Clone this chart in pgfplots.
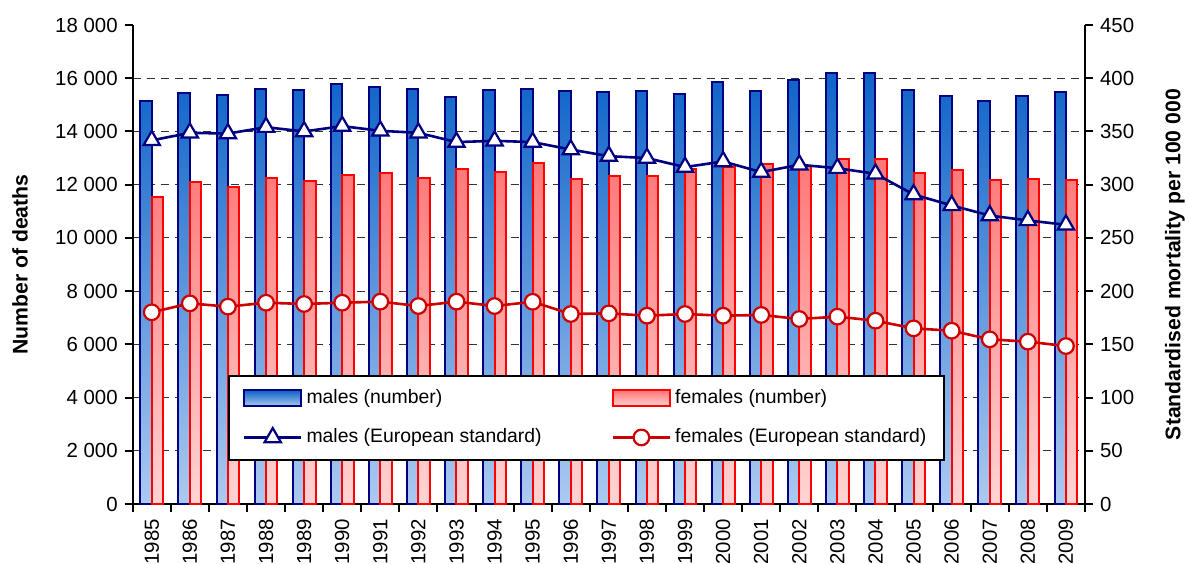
\documentclass[border=0pt]{standalone}
\usepackage{fontspec}
\setmainfont{Liberation Sans}
\usepackage{pgfplots}
\pgfplotsset{compat=1.18}
\definecolor{mnavy}{RGB}{0,0,128}
\definecolor{mtop}{RGB}{13,99,200}
\definecolor{mbot}{RGB}{172,202,240}
\definecolor{fred}{RGB}{255,0,0}
\definecolor{ftop}{RGB}{255,118,118}
\definecolor{fbot}{RGB}{255,212,212}
\definecolor{fline}{RGB}{204,0,0}
\pgfplotsset{
  barlegend/.style={legend image code/.code={\draw[##1] (0pt,-4pt) rectangle (28.5pt,4pt);}},
  linelegend/.style={legend image code/.code={\draw[mark repeat=2,mark phase=2,##1] plot coordinates {(0pt,0pt) (14.25pt,0pt) (28.5pt,0pt)};}},
  common/.style={
    width=476.15pt, height=239.5pt, scale only axis,
    xmin=-0.5, xmax=24.5,
    scaled y ticks=false, scaled x ticks=false,
    tick align=outside,
    major tick length=4pt, minor tick length=4pt,
    tick style={black, line width=1pt},
    axis line style={black, line width=1pt},
    tick label style={font=\fontsize{10.2}{12}\selectfont},
  }
}
\begin{document}
\begin{tikzpicture}
\begin{axis}[common,
  axis y line*=left, axis x line*=bottom,
  ymin=0, ymax=18000,
  ytick={0,2000,4000,6000,8000,10000,12000,14000,16000},
  yticklabels={0,2~000,4~000,6~000,8~000,10~000,12~000,14~000,16~000},
  extra y ticks={18000}, extra y tick labels={18~000}, extra y tick style={grid=none},
  ymajorgrids, grid style={black!80, dash pattern=on 4pt off 3pt, line width=0.55pt},
  xtick={0,1,2,3,4,5,6,7,8,9,10,11,12,13,14,15,16,17,18,19,20,21,22,23,24},
  xticklabels={1985,1986,1987,1988,1989,1990,1991,1992,1993,1994,1995,1996,1997,1998,1999,2000,2001,2002,2003,2004,2005,2006,2007,2008,2009},
  major x tick style={draw=none},
  minor xtick={-0.5,0.5,...,24.5},
  xticklabel style={rotate=90, anchor=east},
  ylabel={Number of deaths},
  every axis y label/.style={at={(axis description cs:-0.1183,0.5)}, rotate=90, anchor=center, font=\fontsize{10.6}{12}\selectfont\bfseries},
  bar width=0.3,
]
\addplot[ybar, bar shift=-0.15, draw=mnavy, line width=1pt, top color=mtop, bottom color=mbot] coordinates {
(0,15150) (1,15440) (2,15380) (3,15610) (4,15560) (5,15790) (6,15680) (7,15600) (8,15310) (9,15550)
(10,15610) (11,15530) (12,15480) (13,15530) (14,15410) (15,15850) (16,15510) (17,15950) (18,16200) (19,16190)
(20,15540) (21,15340) (22,15160) (23,15320) (24,15480)};
\addplot[ybar, bar shift=0.15, draw=fred, line width=1pt, top color=ftop, bottom color=fbot] coordinates {
(0,11530) (1,12090) (2,11920) (3,12260) (4,12150) (5,12370) (6,12420) (7,12240) (8,12600) (9,12470)
(10,12820) (11,12210) (12,12340) (13,12320) (14,12600) (15,12660) (16,12760) (17,12720) (18,12970) (19,12950)
(20,12440) (21,12540) (22,12170) (23,12230) (24,12180)};
\end{axis}
\begin{axis}[common,
  axis y line*=right, axis x line=none,
  ymin=0, ymax=450,
  ytick={0,50,100,150,200,250,300,350,400,450},
  yticklabels={0,50,100,150,200,250,300,350,400,450},
  ylabel={Standardised mortality per 100~000},
  every axis y label/.style={at={(axis description cs:1.0945,0.5)}, rotate=90, anchor=center, font=\fontsize{10.6}{12}\selectfont\bfseries},
  legend columns=2,
  legend cell align=left,
  legend style={at={(0.1,0.0898)}, anchor=south west, draw=black, line width=1pt, fill=white,
    font=\fontsize{9.7}{11}\selectfont, inner xsep=7pt, inner ysep=5pt, row sep=7pt,
    /tikz/every even column/.append style={column sep=33pt}},
]
\addlegendimage{barlegend, draw=mnavy, line width=1pt, top color=mtop, bottom color=mbot}
\addlegendentry{males (number)}
\addlegendimage{barlegend, draw=fred, line width=1pt, top color=ftop, bottom color=fbot}
\addlegendentry{females (number)}
\addplot[linelegend, mnavy, line width=1.3pt, mark=triangle*, mark size=4.7pt, mark options={fill=white, draw=mnavy, line width=1.1pt}] coordinates {
(0,341.6) (1,348.7) (2,348) (3,354) (4,350) (5,355) (6,350.6) (7,348.7) (8,340) (9,341.2)
(10,340) (11,333) (12,326.8) (13,325) (14,316.5) (15,321.8) (16,311.8) (17,318.7) (18,315.5) (19,310.2)
(20,290.8) (21,280.5) (22,271) (23,266.4) (24,262.3)};
\addlegendentry{males (European standard)}
\addplot[linelegend, fline, line width=1.3pt, mark=*, mark size=3.9pt, mark options={fill=white, draw=fline, line width=1.1pt}] coordinates {
(0,180.1) (1,188.5) (2,185.4) (3,189.1) (4,187.9) (5,189.1) (6,190.1) (7,186) (8,190.1) (9,186)
(10,190) (11,178.5) (12,179.1) (13,176.9) (14,178.5) (15,176.9) (16,177.6) (17,173.8) (18,176) (19,172.2)
(20,165) (21,162.8) (22,154.7) (23,152.5) (24,148.4)};
\addlegendentry{females (European standard)}
\end{axis}
\pgfresetboundingbox
\path[use as bounding box] (-66.35pt,-29.5pt) rectangle (528.15pt,252pt);
\end{tikzpicture}
\end{document}
